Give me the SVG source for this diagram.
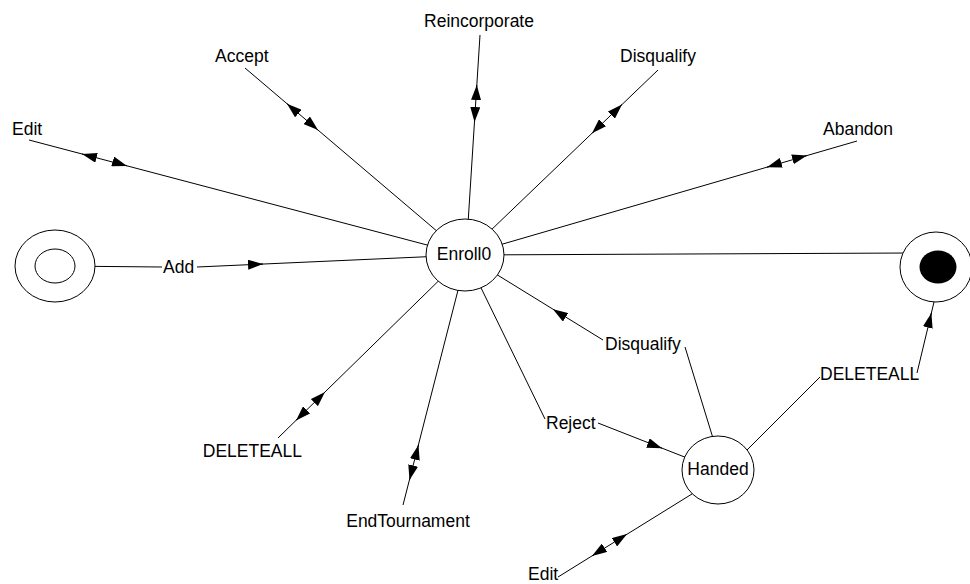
<svg xmlns="http://www.w3.org/2000/svg" width="970" height="584" viewBox="0 0 970 584">
  <style>
    .ln { fill: none; stroke: #000; stroke-width: 1; }
    .st { fill: #fff; stroke: #000; stroke-width: 1; }
    .ah { fill: none; stroke: #000; stroke-width: 1; marker-end: url(#ah); }
    text { font-family: "Liberation Sans", Arial, sans-serif; font-size: 17.5px; fill: #000; }
    .mid { text-anchor: middle; }
    .end { text-anchor: end; }
  </style>
  <defs>
    <!-- filled arrowhead; tip sits on the end of the short segment that carries it -->
    <marker id="ah" viewBox="0 0 15 10" refX="15" refY="5" markerWidth="15" markerHeight="10" markerUnits="userSpaceOnUse" orient="auto">
      <path d="M0,0 L15,5 L0,10 z" fill="#000"/>
    </marker>
  </defs>

  <rect width="970" height="584" fill="#fff"/>

  <g id="connectors">
    <!-- Edit (Enroll0 self transition) -->
    <path class="ln" d="M29,140 L465,255"/>
    <path class="ah" d="M83.9,154.5 L82,154"/>
    <path class="ah" d="M125.1,165.3 L127,165.9"/>
    <text x="12" y="135">Edit</text>

    <!-- Accept -->
    <path class="ln" d="M245,68 L465,255"/>
    <path class="ah" d="M288.5,105 L287,103.7"/>
    <path class="ah" d="M316.5,128.8 L318,130.1"/>
    <text x="215" y="62">Accept</text>

    <!-- Reincorporate -->
    <path class="ln" d="M480,35 L466,255"/>
    <path class="ah" d="M476.7,87 L476.8,85"/>
    <path class="ah" d="M474.6,120 L474.5,122"/>
    <text x="479" y="27" class="mid">Reincorporate</text>

    <!-- Disqualify (upper) -->
    <path class="ln" d="M658,70 L465,255"/>
    <path class="ah" d="M620.6,105.9 L622,104.5"/>
    <path class="ah" d="M593.4,131.9 L592,133.3"/>
    <text x="658" y="62" class="mid">Disqualify</text>

    <!-- Abandon -->
    <path class="ln" d="M857,141 L465,255"/>
    <path class="ah" d="M805.1,156 L807,155.5"/>
    <path class="ah" d="M768.9,166.6 L767,167.2"/>
    <text x="823" y="135">Abandon</text>

    <!-- Enroll0 to final state -->
    <path class="ln" d="M465,255 L910,253"/>

    <!-- Add: initial state to Enroll0 -->
    <path class="ln" d="M55,266 L162,267"/>
    <path class="ln" d="M197,267 L465,255"/>
    <path class="ah" d="M261,264.1 L263,264"/>
    <text x="163" y="273">Add</text>

    <!-- DELETEALL (left) -->
    <path class="ln" d="M278,438 L465,255"/>
    <path class="ah" d="M323.6,393.4 L325,392"/>
    <path class="ah" d="M297.4,419 L296,420.4"/>
    <text x="302" y="457" class="end">DELETEALL</text>

    <!-- EndTournament -->
    <path class="ln" d="M403,505 L467,255"/>
    <path class="ah" d="M418,447 L418.5,445"/>
    <path class="ah" d="M410,478 L409.5,480"/>
    <text x="408" y="527" class="mid">EndTournament</text>

    <!-- Reject: Enroll0 to Handed -->
    <path class="ln" d="M465,255 L545,419"/>
    <path class="ln" d="M598,423 L710,467"/>
    <path class="ah" d="M660.1,447.5 L662,448.2"/>
    <text x="546" y="429">Reject</text>

    <!-- Disqualify (lower): Handed to Enroll0 -->
    <path class="ln" d="M716,448 L685,347"/>
    <path class="ln" d="M603,340 L465,255"/>
    <path class="ah" d="M554.7,310.3 L553,309.2"/>
    <text x="605" y="350">Disqualify</text>

    <!-- DELETEALL (right): Handed to final state -->
    <path class="ln" d="M740,457 L820,377"/>
    <path class="ln" d="M917,373 L934,302"/>
    <path class="ah" d="M930.9,315 L931.4,313"/>
    <text x="820" y="380">DELETEALL</text>

    <!-- Edit (Handed self transition) -->
    <path class="ln" d="M558,577 L700,489"/>
    <path class="ah" d="M625.3,535.2 L627,534.1"/>
    <path class="ah" d="M593.7,554.8 L592,555.9"/>
    <text x="528" y="580">Edit</text>
  </g>

  <g id="initial">
    <ellipse class="st" cx="55" cy="266" rx="40" ry="36"/>
    <ellipse class="st" cx="55" cy="266" rx="20" ry="17"/>
  </g>

  <g id="enroll0">
    <ellipse class="st" cx="465" cy="255" rx="39" ry="36"/>
    <text x="464" y="260" class="mid">Enroll0</text>
  </g>

  <g id="handed">
    <ellipse class="st" cx="718" cy="470" rx="36" ry="34"/>
    <text x="718" y="475" class="mid">Handed</text>
  </g>

  <g id="final">
    <ellipse class="st" cx="936" cy="267" rx="36" ry="35"/>
    <ellipse cx="938" cy="267" rx="18.5" ry="16.5" fill="#000"/>
  </g>
</svg>
